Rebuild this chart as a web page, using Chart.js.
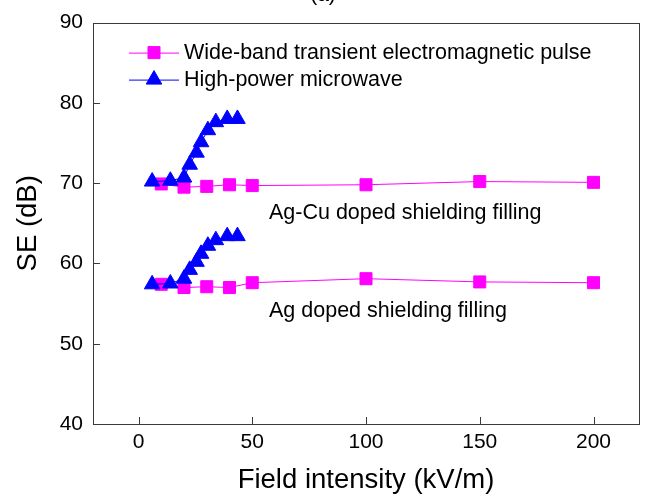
<!DOCTYPE html>
<html>
<head>
<meta charset="utf-8">
<script src="https://cdn.jsdelivr.net/npm/chart.js@4/dist/chart.umd.min.js"></script>
<style>
html, body { margin: 0; padding: 0; background: #fff; }
#wrap { width: 651px; height: 497px; }
</style>
</head>
<body>
<div id="wrap"><canvas id="se-chart" width="651" height="497"></canvas></div>
<script>
"use strict";

// Data
var fieldWB = [10, 20, 30, 40, 50, 100, 150, 200];
var seAgCuWB = [69.9, 69.5, 69.6, 69.8, 69.7, 69.8, 70.2, 70.1];
var seAgWB = [57.4, 57.0, 57.1, 57.0, 57.6, 58.1, 57.7, 57.6];

var fieldHPM = [6, 14, 20, 22.5, 25.5, 27.5, 30.5, 34, 39, 43.5];
var seAgCuHPM = [70.2, 70.3, 70.7, 72.3, 73.8, 75.1, 76.6, 77.6, 78.0, 78.0];
var seAgHPM = [57.4, 57.5, 58.1, 59.2, 60.2, 61.2, 62.2, 62.9, 63.4, 63.4];

var xTicks = [0, 50, 100, 150, 200];
var yTicks = [40, 50, 60, 70, 80, 90];

var legendLabels = ["Wide-band transient electromagnetic pulse", "High-power microwave"];
var groupNotes = [
    { text: "Ag-Cu doped shielding filling", x: 100, y: 66.3 },
    { text: "Ag doped shielding filling", x: 100, y: 54.1 }
];

var MAGENTA = "#ff00ff";
var BLUE = "#0000ff";
var FONT = "'Liberation Sans', Arial, sans-serif";

function toPoints(xs, ys) {
    return xs.map(function (x, i) { return { x: x, y: ys[i] }; });
}

function series(xs, ys, color, style, radius) {
    return {
        data: toPoints(xs, ys),
        showLine: true,
        borderColor: color,
        borderWidth: 1,
        backgroundColor: color,
        pointStyle: style,
        pointRadius: radius,
        pointBackgroundColor: color,
        pointBorderColor: color,
        pointBorderWidth: 1,
        tension: 0
    };
}

// Frame, inward ticks, legend and notes
var decorPlugin = {
    id: "decor",
    beforeDatasetsDraw: function (chart) {
        var ctx = chart.ctx;
        var a = chart.chartArea;
        var xs = chart.scales.x;
        var ys = chart.scales.y;
        ctx.save();
        ctx.strokeStyle = "#3a3a3a";
        ctx.lineWidth = 1;
        ctx.strokeRect(Math.round(a.left) + 0.5, Math.round(a.top) + 0.5,
            Math.round(a.right - a.left), Math.round(a.bottom - a.top));
        ctx.beginPath();
        xTicks.forEach(function (v) {
            var px = Math.round(xs.getPixelForValue(v)) + 0.5;
            ctx.moveTo(px, a.bottom);
            ctx.lineTo(px, a.bottom - 7);
        });
        yTicks.forEach(function (v) {
            var py = Math.round(ys.getPixelForValue(v)) + 0.5;
            ctx.moveTo(a.left, py);
            ctx.lineTo(a.left + 7, py);
        });
        ctx.stroke();
        ctx.restore();
    },
    afterDraw: function (chart) {
        var ctx = chart.ctx;
        var a = chart.chartArea;
        var xs = chart.scales.x;
        var ys = chart.scales.y;
        ctx.save();

        // panel label, mostly cut off at the top
        ctx.fillStyle = "#000";
        ctx.font = "21px " + FONT;
        ctx.textAlign = "center";
        ctx.textBaseline = "alphabetic";
        ctx.fillText("(a)", 323, 1);

        // legend
        var legendDs = [chart.data.datasets[2], chart.data.datasets[0]];
        var rowY = [a.top + 30, a.top + 57];
        legendDs.forEach(function (ds, i) {
            var y = rowY[i];
            ctx.strokeStyle = ds.borderColor;
            ctx.lineWidth = 1;
            ctx.beginPath();
            ctx.moveTo(a.left + 36, y + 0.5);
            ctx.lineTo(a.left + 86, y + 0.5);
            ctx.stroke();
            ctx.fillStyle = ds.pointBackgroundColor;
            ctx.strokeStyle = ds.pointBorderColor;
            Chart.helpers.drawPoint(ctx, {
                pointStyle: ds.pointStyle, radius: ds.pointRadius, rotation: 0, borderWidth: 1
            }, a.left + 61, y);
            ctx.fillStyle = "#000";
            ctx.font = "21.5px " + FONT;
            ctx.textAlign = "left";
            ctx.textBaseline = "middle";
            ctx.fillText(legendLabels[i], a.left + 91, y);
        });

        // group notes
        groupNotes.forEach(function (n) {
            ctx.fillStyle = "#000";
            ctx.font = "21.5px " + FONT;
            ctx.textAlign = "left";
            ctx.textBaseline = "middle";
            ctx.fillText(n.text, xs.getPixelForValue(n.x) - 97, ys.getPixelForValue(n.y));
        });
        ctx.restore();
    }
};

var chart = new Chart(document.getElementById("se-chart"), {
    type: "scatter",
    data: {
        datasets: [
            series(fieldHPM, seAgCuHPM, BLUE, "triangle", 9),
            series(fieldHPM, seAgHPM, BLUE, "triangle", 9),
            series(fieldWB, seAgCuWB, MAGENTA, "rect", 8.5),
            series(fieldWB, seAgWB, MAGENTA, "rect", 8.5)
        ]
    },
    options: {
        responsive: false,
        animation: false,
        devicePixelRatio: 1,
        layout: { padding: { left: 0, right: 12, top: 20, bottom: 0 } },
        plugins: {
            legend: { display: false },
            tooltip: { enabled: false }
        },
        scales: {
            x: {
                type: "linear",
                min: -20,
                max: 220,
                grid: { display: false, drawTicks: false },
                border: { display: false },
                afterBuildTicks: function (s) { s.ticks = xTicks.map(function (v) { return { value: v }; }); },
                afterFit: function (s) { s.height = 73; },
                ticks: { color: "#000", padding: 6, font: { family: FONT, size: 21 } },
                title: {
                    display: true,
                    text: "Field intensity (kV/m)",
                    color: "#000",
                    padding: { top: 0, bottom: 0 },
                    font: { family: FONT, size: 27.5 }
                }
            },
            y: {
                type: "linear",
                min: 40,
                max: 90,
                grid: { display: false, drawTicks: false },
                border: { display: false },
                afterBuildTicks: function (s) { s.ticks = yTicks.map(function (v) { return { value: v }; }); },
                afterFit: function (s) { s.width = 93; },
                ticks: { color: "#000", padding: 10, font: { family: FONT, size: 21 } },
                title: {
                    display: true,
                    text: "SE (dB)",
                    color: "#000",
                    padding: { top: 12, bottom: 0 },
                    font: { family: FONT, size: 27.5 }
                }
            }
        }
    },
    plugins: [decorPlugin]
});
</script>
</body>
</html>
